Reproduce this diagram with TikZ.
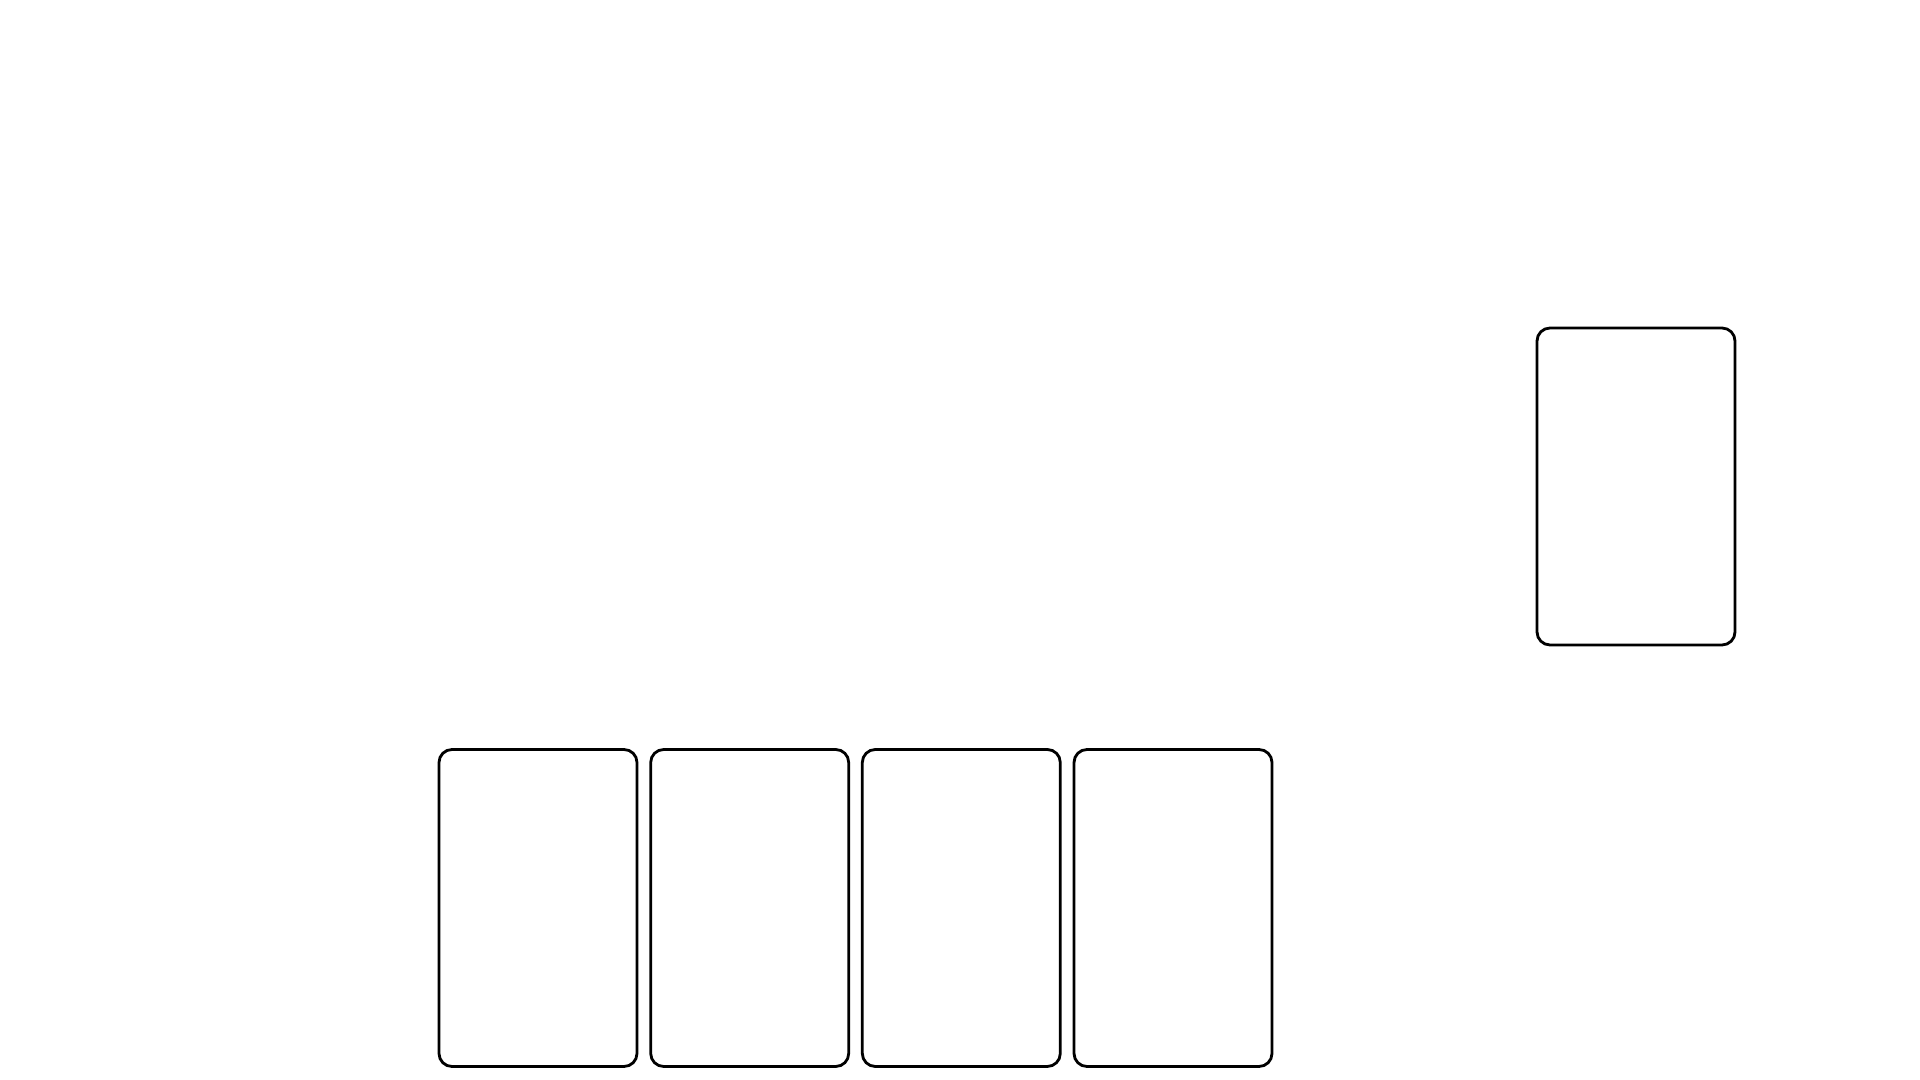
\documentclass[tikz,border=0pt]{standalone}
\begin{document}
\begin{tikzpicture}[card/.style={draw, thick, rounded corners=3.7pt, minimum width=1.98cm, minimum height=3.17cm, inner sep=0pt}]
\useasboundingbox (0,0) rectangle (19.2,10.8);
\node[card] (h1) at (5.38,1.72) {};
\node[card] (h2) at (7.497,1.72) {};
\node[card] (h3) at (9.613,1.72) {};
\node[card] (h4) at (11.73,1.72) {};
\node[card] (pile) at (16.36,5.935) {};
\end{tikzpicture}
\end{document}
